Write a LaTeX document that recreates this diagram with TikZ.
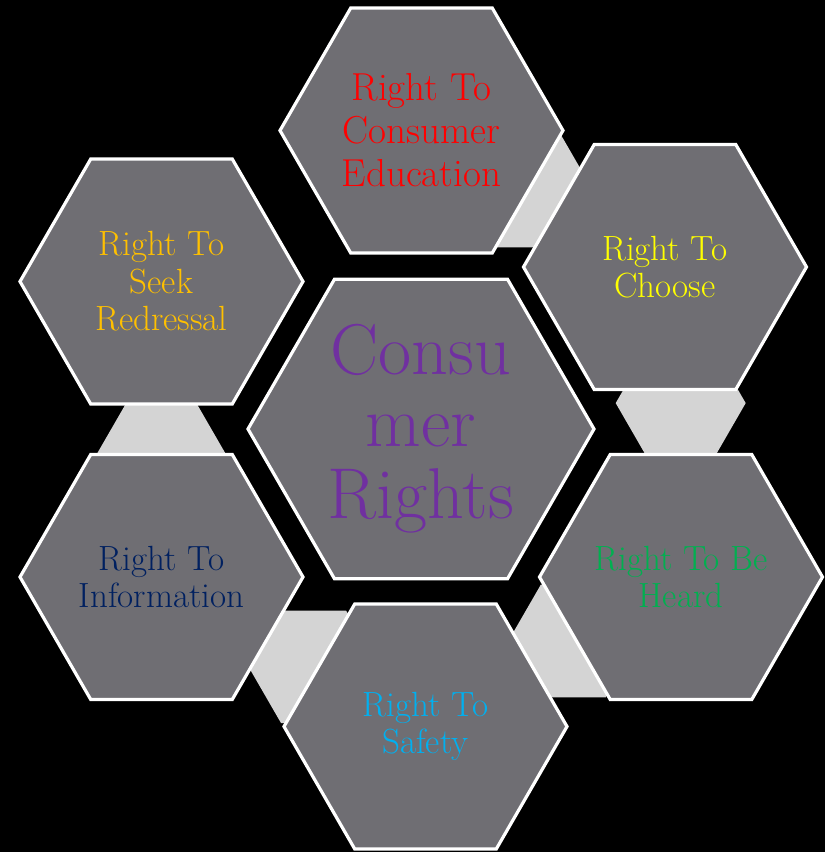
\documentclass[tikz,border=0pt]{standalone}
\usepackage{fontspec}
\definecolor{hexfill}{HTML}{6F6E73}
\definecolor{linkgray}{HTML}{D4D4D4}
\definecolor{cEduTxt}{HTML}{FF0000}
\definecolor{cChoTxt}{HTML}{FFFF00}
\definecolor{cHeaTxt}{HTML}{00B050}
\definecolor{cSafTxt}{HTML}{00B0F0}
\definecolor{cInfTxt}{HTML}{002060}
\definecolor{cRedTxt}{HTML}{FFC000}
\definecolor{cMidTxt}{HTML}{7030A0}
\newcommand\hexat[3][]{\path[#1] (#2) +(0:#3) -- +(60:#3) -- +(120:#3) -- +(180:#3) -- +(240:#3) -- +(300:#3) -- cycle;}
\tikzset{
  hexbody/.style={fill=hexfill, draw=white, line width=3.2pt},
  linkhex/.style={fill=linkgray},
  lbl/.style={align=center, inner sep=0pt, font=\fontsize{35}{37.5}\selectfont},
}
\begin{document}
\begin{tikzpicture}[x=1pt,y=-1pt]
\fill[black] (0,0) rectangle (825,852);
\useasboundingbox (0,0) rectangle (825,852);
% centres
\coordinate (pMid) at (421,429);
\coordinate (pEdu) at (421.5,130.5);
\coordinate (pCho) at (665,267);
\coordinate (pHea) at (681,577);
\coordinate (pSaf) at (425.5,726.5);
\coordinate (pInf) at (161.5,577);
\coordinate (pRed) at (161.5,281.5);
% link hexagons
\coordinate (lA) at (528.4,191.1);
\coordinate (lB) at (680.7,403.1);
\coordinate (lC) at (573.3,641.0);
\coordinate (lD) at (313.6,666.9);
\coordinate (lE) at (161.3,454.9);
\hexat[linkhex]{lA}{65}
\hexat[linkhex]{lB}{65}
\hexat[linkhex]{lC}{65}
\hexat[linkhex]{lD}{65}
\hexat[linkhex]{lE}{65}
% outer hexagons
\hexat[hexbody]{pEdu}{141.5}
\hexat[hexbody]{pCho}{141.5}
\hexat[hexbody]{pHea}{141.5}
\hexat[hexbody]{pSaf}{141.5}
\hexat[hexbody]{pInf}{141.5}
\hexat[hexbody]{pRed}{141.5}
% centre hexagon
\hexat[hexbody]{pMid}{173}
% labels
\node[lbl, text=cEduTxt, font=\fontsize{39}{43}\selectfont] (edu) at (pEdu) {Right To\\Consumer\\Education};
\node[lbl, text=cChoTxt] (cho) at (pCho) {Right To\\Choose};
\node[lbl, text=cHeaTxt] (hea) at (pHea) {Right To Be\\Heard};
\node[lbl, text=cSafTxt] (saf) at (pSaf) {Right To\\Safety};
\node[lbl, text=cInfTxt] (inf) at (pInf) {Right To\\Information};
\node[lbl, text=cRedTxt] (red) at (pRed) {Right To\\Seek\\Redressal};
\node[lbl, text=cMidTxt, font=\fontsize{72}{72}\selectfont] (mid) at (pMid) {Consu\\mer\\Rights};
\end{tikzpicture}
\end{document}
